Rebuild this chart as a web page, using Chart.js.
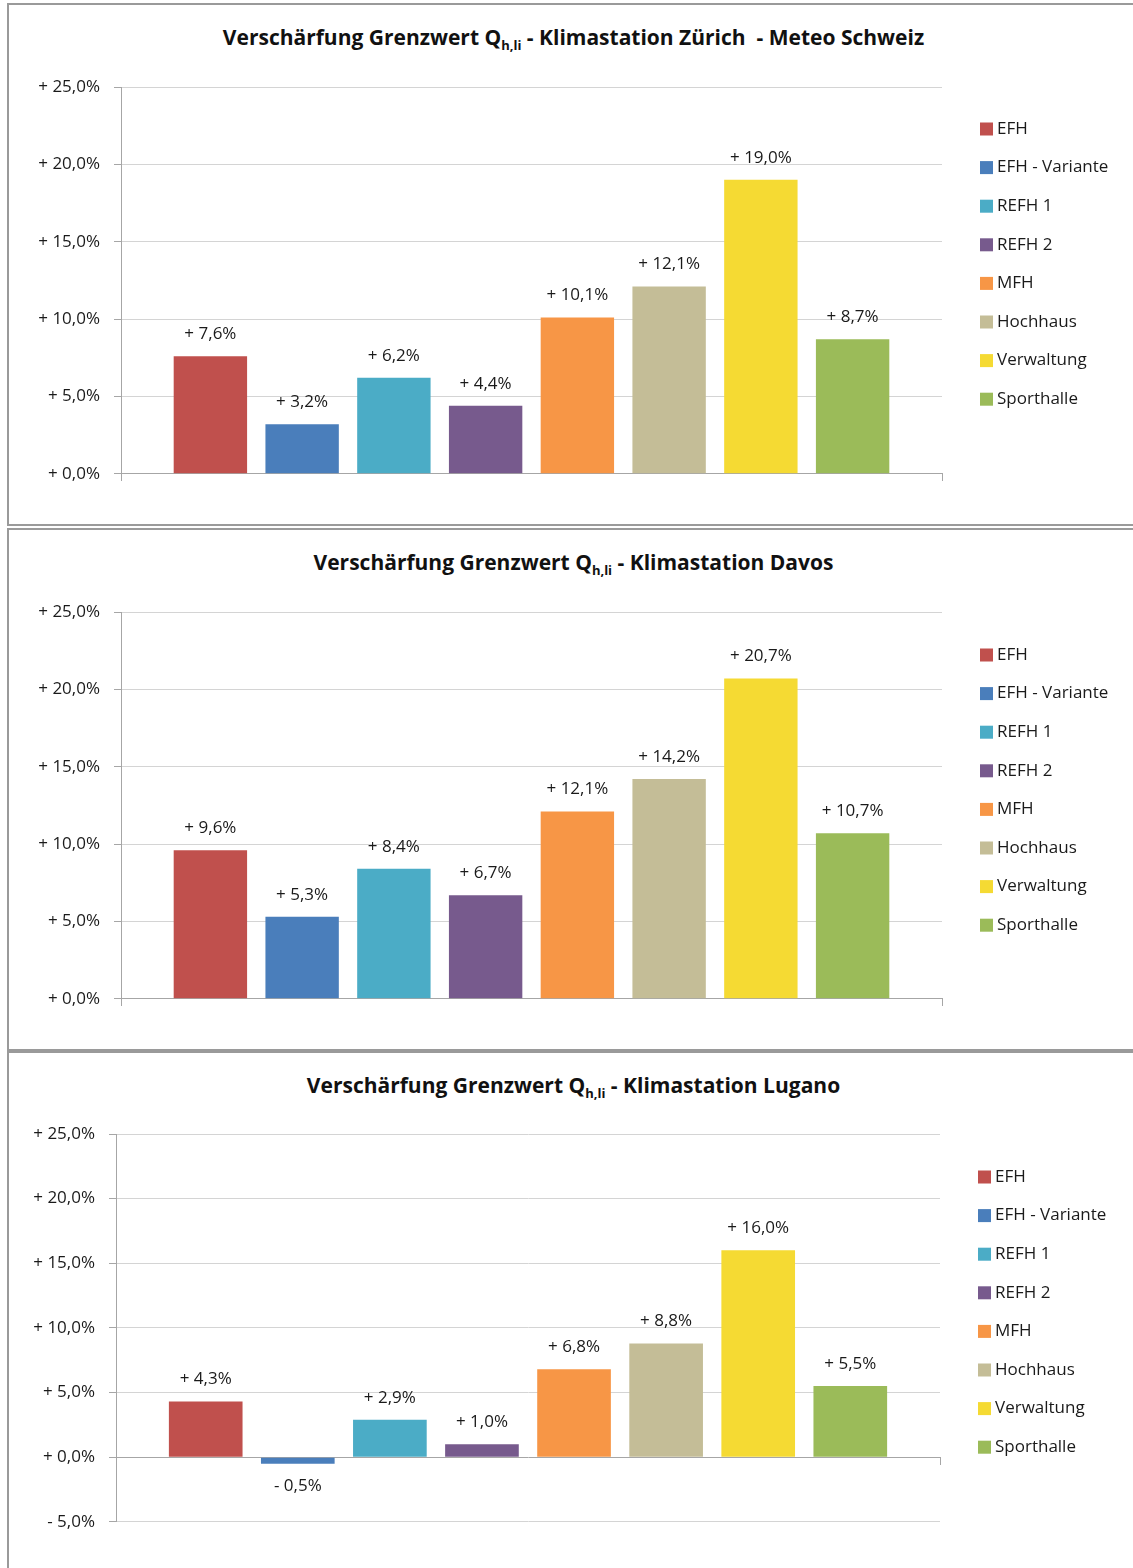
<!DOCTYPE html>
<html>
<head>
<meta charset="utf-8">
<script src="https://cdn.jsdelivr.net/npm/chart.js@4.4.1/dist/chart.umd.min.js"></script>
<style>
  html, body { margin: 0; padding: 0; background: #fff; }
  body { width: 1133px; height: 1568px; position: relative; overflow: hidden; }
  .panel { position: absolute; left: 7px; width: 1160px; border: 2px solid #9a9a9a; box-sizing: border-box; }
  .title { position: absolute; left: 7px; width: 1133px; text-align: center; font: bold 21px "Open Sans", sans-serif; color: #111; line-height: 26px; white-space: nowrap; }
  .title sub { font-size: 13px; vertical-align: -5px; line-height: 0; }
  canvas { position: absolute; left: 0; }
</style>
</head>
<body>
<div class="panel" style="top:3px;height:523px"></div>
<div class="panel" style="top:528px;height:523px"></div>
<div class="panel" style="top:1051px;height:540px"></div>

<div class="title" style="top:24px">Verschärfung Grenzwert Q<sub>h,li</sub> - Klimastation Zürich &nbsp;- Meteo Schweiz</div>
<div class="title" style="top:549px">Verschärfung Grenzwert Q<sub>h,li</sub> - Klimastation Davos</div>
<div class="title" style="top:1072px">Verschärfung Grenzwert Q<sub>h,li</sub> - Klimastation Lugano</div>

<canvas id="chartZurich"></canvas>
<canvas id="chartDavos"></canvas>
<canvas id="chartLugano"></canvas>

<script>
// Gebäudetypen (Legende) und Farben
const categories = ['EFH', 'EFH - Variante', 'REFH 1', 'REFH 2', 'MFH', 'Hochhaus', 'Verwaltung', 'Sporthalle'];
const colors = ['#C0504D', '#4A7EBB', '#4BACC6', '#775A8D', '#F79646', '#C4BD97', '#F5DA33', '#9BBB59'];

// Verschärfung in %
const zurichValues = [7.6, 3.2, 6.2, 4.4, 10.1, 12.1, 19.0, 8.7];
const davosValues  = [9.6, 5.3, 8.4, 6.7, 12.1, 14.2, 20.7, 10.7];
const luganoValues = [4.3, -0.5, 2.9, 1.0, 6.8, 8.8, 16.0, 5.5];

// y-Achse
const yRangeZurich = [0, 25];
const yRangeDavos  = [0, 25];
const yRangeLugano = [-5, 25];
const yStep = 5;

const FONT = '"Open Sans", sans-serif';

function fmtPct(v) {
    const s = Math.abs(v).toFixed(1).replace('.', ',') + '%';
    return (v < 0 ? '- ' : '+ ') + s;
}

// Werte über / unter den Balken
const valueLabels = {
    id: 'valueLabels',
    afterDatasetsDraw(chart) {
        const ctx = chart.ctx;
        ctx.save();
        ctx.font = '17px ' + FONT;
        ctx.fillStyle = '#1a1a1a';
        ctx.textAlign = 'center';
        ctx.textBaseline = 'middle';
        chart.data.datasets.forEach((ds, i) => {
            chart.getDatasetMeta(i).data.forEach((bar, j) => {
                const v = ds.data[j];
                ctx.fillText(fmtPct(v), bar.x, v >= 0 ? bar.y - 22 : bar.y + 23);
            });
        });
        ctx.restore();
    }
};

// Legende rechts neben dem Diagramm
const sideLegend = {
    id: 'sideLegend',
    afterDraw(chart, args, opts) {
        const ctx = chart.ctx;
        const area = chart.chartArea;
        ctx.save();
        ctx.font = '17px ' + FONT;
        ctx.textBaseline = 'middle';
        ctx.textAlign = 'left';
        chart.data.datasets.forEach((ds, i) => {
            const x = area.right + 38;
            const y = area.top + opts.offset + i * 38.6;
            ctx.fillStyle = ds.backgroundColor;
            ctx.fillRect(x, y - 6.5, 13, 13);
            ctx.fillStyle = '#1a1a1a';
            ctx.fillText(ds.label, x + 17, y);
        });
        ctx.restore();
    }
};

function makeChart(canvasId, values, yRange, plot) {
    const canvas = document.getElementById(canvasId);
    const padTop = 30, padBottom = 10, tickLen = 7, axisSpace = 15;
    canvas.style.top = (plot.top - padTop) + 'px';
    canvas.style.width = '1133px';
    canvas.style.height = (plot.bottom - plot.top + padTop + padBottom + axisSpace) + 'px';

    return new Chart(canvas.getContext('2d'), {
        type: 'bar',
        data: {
            labels: [''],
            datasets: categories.map((name, i) => ({
                label: name,
                data: [values[i]],
                backgroundColor: colors[i],
                borderWidth: 0,
                categoryPercentage: 0.894,
                barPercentage: 0.8
            }))
        },
        options: {
            responsive: false,
            animation: false,
            events: [],
            layout: {
                padding: { top: padTop, bottom: padBottom, left: 0, right: 1133 - plot.right }
            },
            plugins: {
                legend: { display: false },
                tooltip: { enabled: false },
                sideLegend: { offset: plot.legendOffset }
            },
            scales: {
                x: {
                    position: { y: 0 },
                    ticks: { display: false },
                    grid: {
                        drawOnChartArea: false,
                        drawTicks: true,
                        tickLength: tickLen,
                        color: '#a6a6a6'
                    },
                    border: { display: true, color: '#a6a6a6', width: 1 }
                },
                y: {
                    min: yRange[0],
                    max: yRange[1],
                    afterFit(scale) { scale.width = plot.left; },
                    ticks: {
                        stepSize: yStep,
                        padding: 14,
                        color: '#1a1a1a',
                        font: { family: FONT, size: 17 },
                        callback: v => fmtPct(v)
                    },
                    grid: {
                        tickLength: 7,
                        tickColor: '#a6a6a6',
                        color: c => (c.tick && c.tick.value === 0) ? 'rgba(0,0,0,0)' : '#d4d4d4'
                    },
                    border: { display: true, color: '#a6a6a6', width: 1 }
                }
            }
        },
        plugins: [valueLabels, sideLegend]
    });
}

makeChart('chartZurich', zurichValues, yRangeZurich, { left: 121, right: 942, top: 87, bottom: 473, legendOffset: 42 });
makeChart('chartDavos',  davosValues,  yRangeDavos,  { left: 121, right: 942, top: 612, bottom: 998, legendOffset: 43 });
makeChart('chartLugano', luganoValues, yRangeLugano, { left: 116, right: 940, top: 1134, bottom: 1521, legendOffset: 43 });
</script>
</body>
</html>
